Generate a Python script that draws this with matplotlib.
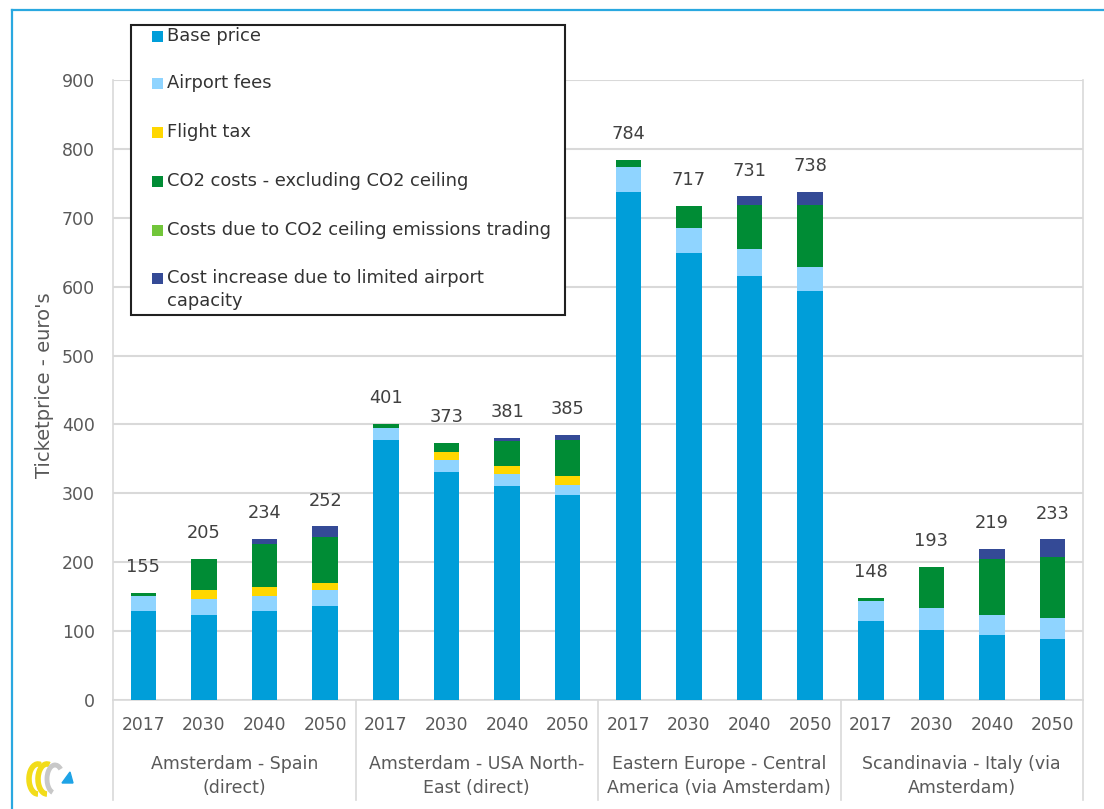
import numpy as np
import matplotlib
matplotlib.use("Agg")
import matplotlib.pyplot as plt
from matplotlib.patches import Rectangle, Arc, Polygon
from matplotlib.lines import Line2D
import matplotlib.transforms as mtransforms

years = ["2017", "2030", "2040", "2050"]
routes = [
    "Amsterdam - Spain\n(direct)",
    "Amsterdam - USA North-\nEast (direct)",
    "Eastern Europe - Central\nAmerica (via Amsterdam)",
    "Scandinavia - Italy (via\nAmsterdam)",
]

base_price = [129, 123, 129, 137, 378, 331, 311, 298, 738, 649, 616, 593, 114, 102, 94, 88]
airport_fees = [22, 23, 22, 22, 17, 17, 17, 14, 35, 36, 38, 36, 30, 31, 30, 31]
flight_tax = [0, 13, 13, 11, 0, 12, 11, 13, 0, 0, 0, 0, 0, 0, 0, 0]
co2_costs = [4, 46, 62, 67, 6, 13, 37, 52, 11, 32, 65, 89, 4, 60, 81, 89]
co2_ceiling = [0, 0, 0, 0, 0, 0, 0, 0, 0, 0, 0, 0, 0, 0, 0, 0]
capacity_cost = [0, 0, 8, 15, 0, 0, 5, 8, 0, 0, 12, 20, 0, 0, 14, 25]

series = [
    ("Base price", base_price, "#009ed9"),
    ("Airport fees", airport_fees, "#8fd4ff"),
    ("Flight tax", flight_tax, "#ffd700"),
    ("CO2 costs - excluding CO2 ceiling", co2_costs, "#008c35"),
    ("Costs due to CO2 ceiling emissions trading", co2_ceiling, "#72c63a"),
    ("Cost increase due to limited airport\ncapacity", capacity_cost, "#344a96"),
]

W, H = 1104, 809
TXT = "#595959"
GRID = "#d9d9d9"


def px(x, y):
    # pixel position (from top-left) to figure fraction
    return x / W, 1 - y / H


fig = plt.figure(figsize=(W / 100, H / 100), dpi=100)
plt.rcParams["font.family"] = "DejaVu Sans"

ax = fig.add_axes([113 / W, 1 - 700 / H, (1083 - 113) / W, (700 - 80) / H])

x = np.arange(len(base_price))
bottom = np.zeros(len(x))
for name, vals, color in series:
    vals = np.array(vals, dtype=float)
    ax.bar(x, vals, 0.42, bottom=bottom, color=color, edgecolor="none", zorder=3)
    bottom += vals

for xi, total in zip(x, bottom):
    ax.annotate(f"{total:.0f}", (xi, total), xytext=(0, 15), textcoords="offset points",
                ha="center", va="baseline", fontsize=12.8, color="#404040")

ax.set_xlim(-0.5, 15.5)
ax.set_ylim(0, 900)
ax.set_yticks(range(0, 901, 100))
ax.tick_params(axis="y", length=0, pad=13, labelsize=12.5, labelcolor=TXT)
ax.set_xticks([])
ax.grid(axis="y", color=GRID, lw=1.5, zorder=0)
ax.spines["top"].set_visible(False)
for side in ["left", "right", "bottom"]:
    ax.spines[side].set_color(GRID)
    ax.spines[side].set_linewidth(1.2)

# two-level category axis
blend = mtransforms.blended_transform_factory(ax.transData, fig.transFigure)
for i, xi in enumerate(x):
    ax.text(xi, 1 - 725 / H, years[i % 4], transform=blend, ha="center", va="center",
            fontsize=12.3, color=TXT)
for g, label in enumerate(routes):
    ax.text(4 * g + 1.5, 1 - 776 / H, label, transform=blend, ha="center", va="center",
            fontsize=12.5, color=TXT, linespacing=1.4)
for sep in [-0.5, 3.5, 7.5, 11.5, 15.5]:
    ax.add_line(Line2D([sep, sep], [1 - 700 / H, 1 - 800 / H], transform=blend,
                       color=GRID, lw=1.2, clip_on=False))

fig.text(*px(45, 385), "Ticketprice - euro's", rotation=90, ha="center", va="center",
         fontsize=14, color=TXT)

# legend box
x0, y0 = px(131, 315)
x1, y1 = px(565, 25)
fig.add_artist(Rectangle((x0, y0), x1 - x0, y1 - y0, transform=fig.transFigure,
                         facecolor="white", edgecolor="#202020", lw=1.5, zorder=5))
row_y = [36, 83, 132, 181, 230, 278]
for (name, vals, color), ry in zip(series, row_y):
    mx, my = px(152, ry + 5.5)
    fig.add_artist(Rectangle((mx, my), 11 / W, 11 / H, transform=fig.transFigure,
                             facecolor=color, edgecolor="none", zorder=6))
    for k, line in enumerate(name.split("\n")):
        fig.text(*px(167, ry + 23 * k), line, ha="left", va="center", fontsize=12.9,
                 color="#333333", zorder=7)

# outer frame
fig.add_artist(Line2D([12 / W, 1], [1 - 10 / H, 1 - 10 / H], transform=fig.transFigure,
                      color="#2aa8e0", lw=1.6))
fig.add_artist(Line2D([12 / W, 12 / W], [0, 1 - 10 / H], transform=fig.transFigure,
                      color="#2aa8e0", lw=1.6))

# small logo
lax = fig.add_axes([20 / W, 1 - 800 / H, 60 / W, 45 / H])
lax.set_xlim(20, 80)
lax.set_ylim(800, 755)
lax.axis("off")
lax.add_patch(Arc((38, 779), 18, 30, theta1=90, theta2=280, color="#f2dc1a", lw=4))
lax.add_patch(Arc((47, 779), 18, 30, theta1=90, theta2=280, color="#f2dc1a", lw=4))
lax.add_patch(Arc((55, 779), 16, 28, theta1=100, theta2=300, color="#c8c8c8", lw=3.5))
lax.add_patch(Polygon([(62, 783), (73, 783), (70, 772)], closed=True, color="#1ea3e6"))

fig.savefig("out.png", dpi=100)
